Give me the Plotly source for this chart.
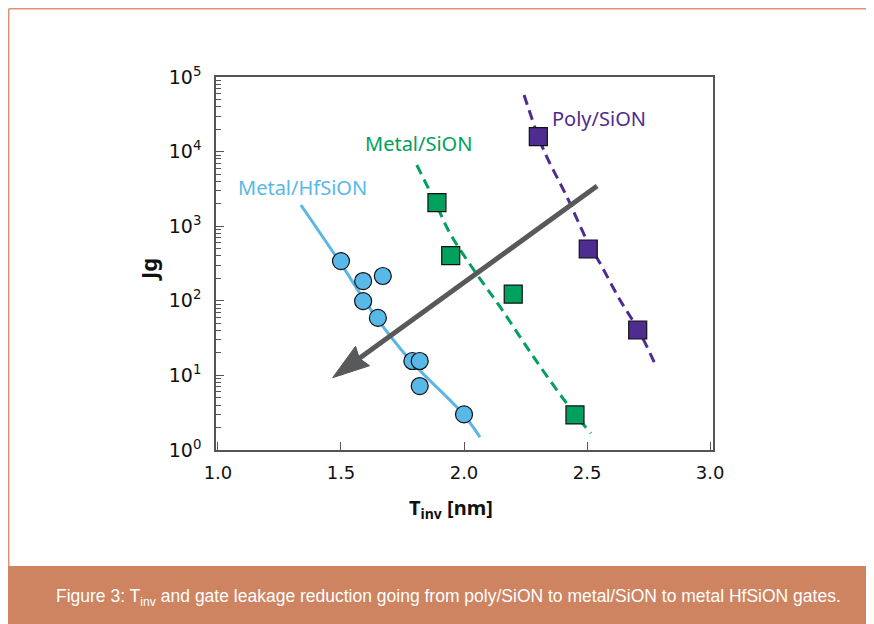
import plotly.graph_objects as go
import numpy as np

# ---------------- data ----------------
hf_tinv = [1.50, 1.59, 1.67, 1.59, 1.65, 1.79, 1.82, 1.82, 2.00]
hf_jg = [341, 184, 215, 99, 59, 15.6, 15.6, 7.2, 3.0]

ms_tinv = [1.89, 1.946, 2.20, 2.451]
ms_jg = [2065, 403, 123, 2.95]

ps_tinv = [2.302, 2.505, 2.706]
ps_jg = [15850, 495, 40.6]

hf_fit_x = [1.337, 1.492, 1.642, 1.780, 1.996, 2.065]
hf_fit_y = [1923, 342, 60.7, 16.1, 3.04, 1.49]

ms_fit_x = [1.808, 1.882, 1.943, 2.045, 2.146, 2.282, 2.417, 2.515]
ms_fit_y = [6607, 2128, 803, 245, 83.4, 17.8, 4.23, 1.67]

ps_fit_x = [2.244, 2.302, 2.336, 2.418, 2.499, 2.553, 2.634, 2.709, 2.780]
ps_fit_y = [57400, 15850, 8550, 2480, 653, 318, 102.5, 40.6, 13.4]

x_ticks = [1.0, 1.5, 2.0, 2.5, 3.0]
x_ticktext = ["1.0", "1.5", "2.0", "2.5", "3.0"]
y_ticks = [1, 10, 100, 1000, 10000, 100000]
y_ticktext = ["10<sup>0</sup>", "10<sup>1</sup>", "10<sup>2</sup>",
              "10<sup>3</sup>", "10<sup>4</sup>", "10<sup>5</sup>"]

series_labels = ["Metal/HfSiON", "Metal/SiON", "Poly/SiON"]

# ---------------- style ----------------
BLUE = "#58B8E8"
BLUE_LINE = "#5AB6E6"
GREEN = "#00A05E"
PURPLE = "#4F2C90"
GRAY = "#58595B"
AXC = "#555555"
ORANGE = "#CE8461"

OFF = 8  # page offset of the figure inside the window
W, H = 874, 624
L = 216 - OFF
T = 77 - OFF
PW, PH = 497, 373
R = W - L - PW
B = H - T - PH
XR = [0.992, 3.012]
YR = [0, 5]
ppx = PW / (XR[1] - XR[0])
ppy = PH / (YR[1] - YR[0])


def px2paper(sx, sy):
    """screen pixel -> paper coords"""
    fx, fy = sx - OFF, sy - OFF
    return (fx - L) / PW, (T + PH - fy) / PH


fig = go.Figure()

# fit lines
fig.add_trace(go.Scatter(x=hf_fit_x, y=hf_fit_y, mode="lines", line_shape="spline",
                         line=dict(color=BLUE_LINE, width=3), hoverinfo="skip"))
fig.add_trace(go.Scatter(x=ms_fit_x, y=ms_fit_y, mode="lines", line_shape="spline",
                         line=dict(color=GREEN, width=3, dash="10px,6px"), hoverinfo="skip"))
fig.add_trace(go.Scatter(x=ps_fit_x, y=ps_fit_y, mode="lines", line_shape="spline",
                         line=dict(color=PURPLE, width=3, dash="10px,6px"), hoverinfo="skip"))

# arrow (decoration)
tail = (2.541, 3.539)   # (x, log10 y)
tip = (1.466, 0.969)
tpx = np.array([tail[0] * ppx, -tail[1] * ppy])
hpx = np.array([tip[0] * ppx, -tip[1] * ppy])
u = (hpx - tpx) / np.linalg.norm(hpx - tpx)
n = np.array([-u[1], u[0]])
HL, HW, NOTCH = 37, 24, 4
pts = [hpx, hpx - HL * u + HW / 2 * n, hpx - (HL - NOTCH) * u, hpx - HL * u - HW / 2 * n, hpx]
ax_x = [p[0] / ppx for p in pts]
ax_y = [10 ** (-p[1] / ppy) for p in pts]
line_end = hpx - (HL - NOTCH - 2) * u
fig.add_trace(go.Scatter(x=[tail[0], line_end[0] / ppx],
                         y=[10 ** tail[1], 10 ** (-line_end[1] / ppy)],
                         mode="lines", line=dict(color=GRAY, width=5), hoverinfo="skip"))
fig.add_trace(go.Scatter(x=ax_x, y=ax_y, mode="lines", fill="toself", fillcolor=GRAY,
                         line=dict(color=GRAY, width=1), hoverinfo="skip"))

# markers
fig.add_trace(go.Scatter(x=hf_tinv, y=hf_jg, mode="markers", name=series_labels[0],
                         marker=dict(symbol="circle", size=17, color=BLUE,
                                     line=dict(color="#111111", width=1.2))))
fig.add_trace(go.Scatter(x=ms_tinv, y=ms_jg, mode="markers", name=series_labels[1],
                         marker=dict(symbol="square", size=18, color=GREEN,
                                     line=dict(color="#111111", width=1.2))))
fig.add_trace(go.Scatter(x=ps_tinv, y=ps_jg, mode="markers", name=series_labels[2],
                         marker=dict(symbol="square", size=18, color=PURPLE,
                                     line=dict(color="#111111", width=1.2))))

# series labels
lab_font = "Noto Sans, Open Sans, sans-serif"
fig.add_annotation(x=1.343, y=3.525, text=series_labels[0], showarrow=False,
                   xanchor="center", yanchor="middle",
                   font=dict(family=lab_font, size=20, color=BLUE))
fig.add_annotation(x=1.815, y=4.115, text=series_labels[1], showarrow=False,
                   xanchor="center", yanchor="middle",
                   font=dict(family=lab_font, size=20, color=GREEN))
fig.add_annotation(x=2.548, y=4.45, text=series_labels[2], showarrow=False,
                   xanchor="center", yanchor="middle",
                   font=dict(family=lab_font, size=20, color=PURPLE))

# axis titles
xt = px2paper(451, 508)
fig.add_annotation(xref="paper", yref="paper", x=xt[0], y=xt[1],
                   xanchor="center", yanchor="middle",
                   text="T<sub>inv</sub> [nm]", showarrow=False,
                   font=dict(family="Noto Sans, sans-serif", size=20, color="#111111", weight="bold"))
yt = px2paper(148, 270)
fig.add_annotation(xref="paper", yref="paper", x=yt[0], y=yt[1], text="Jg",
                   xanchor="center", yanchor="middle",
                   textangle=-90, showarrow=False,
                   font=dict(family="Noto Sans, sans-serif", size=22, color="#111111", weight="bold"))

# caption
cp = px2paper(448, 597)
fig.add_annotation(xref="paper", yref="paper", x=cp[0], y=cp[1],
                   xanchor="center", yanchor="middle",
                   text="Figure 3: T<sub>inv</sub> and gate leakage reduction going from poly/SiON to metal/SiON to metal HfSiON gates.",
                   showarrow=False,
                   font=dict(family="Liberation Sans, Arial, sans-serif", size=17.5, color="white"))

# background frame shapes
r0 = px2paper(5, 566)
r1 = px2paper(890, 640)
fig.add_shape(type="rect", xref="paper", yref="paper", x0=r0[0], y0=r1[1], x1=r1[0], y1=r0[1],
              fillcolor=ORANGE, line=dict(width=0), layer="below")
a = px2paper(OFF + 0.75, OFF + 0.75)
b = px2paper(890, OFF + 0.75)
c = px2paper(OFF + 0.75, 566)
fig.add_shape(type="line", xref="paper", yref="paper", x0=a[0], y0=a[1], x1=b[0], y1=b[1],
              line=dict(color="#DB9473", width=1.5))
fig.add_shape(type="line", xref="paper", yref="paper", x0=a[0], y0=a[1], x1=c[0], y1=c[1],
              line=dict(color="#DB9473", width=1.5))

xtick_font = dict(family="DejaVu Sans, sans-serif", size=18, color="#111111")
ytick_font = dict(family="DejaVu Sans, sans-serif", size=19, color="#111111")
fig.update_layout(
    width=W, height=H,
    margin=dict(l=L, r=R, t=T, b=B),
    paper_bgcolor="white", plot_bgcolor="white",
    showlegend=False,
    xaxis=dict(range=XR, tickvals=x_ticks, ticktext=x_ticktext, ticks="inside",
               ticklen=8, tickwidth=1.2, tickcolor=AXC, showline=True, linecolor=AXC,
               linewidth=1.5, mirror=True, showgrid=False, zeroline=False,
               tickfont=xtick_font, ticklabelstandoff=6),
    yaxis=dict(type="log", range=YR, tickvals=y_ticks, ticktext=y_ticktext, ticks="inside",
               ticklen=8, tickwidth=1.2, tickcolor=AXC, showline=True, linecolor=AXC,
               linewidth=1.5, mirror=True, showgrid=False, zeroline=False,
               tickfont=ytick_font, ticklabelstandoff=9,
               minor=dict(ticks="inside", ticklen=5, tickcolor=AXC, tickwidth=1, dtick="D1",
                          showgrid=False)),
)

fig.write_html("out.html")
